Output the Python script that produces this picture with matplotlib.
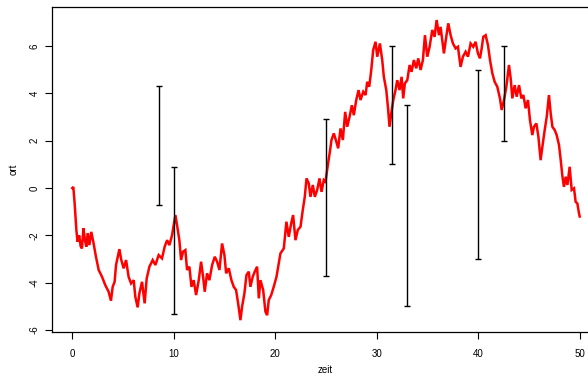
import matplotlib
matplotlib.use("Agg")
import matplotlib.pyplot as plt
import numpy as np

# Pfad (zeit, ort)
zeit = [
    0.0, 0.1, 0.23, 0.4, 0.52, 0.68, 0.82, 0.95, 1.1, 1.25, 1.38, 1.52, 1.68, 1.87,
    2.1, 2.33, 2.6, 2.93, 3.25, 3.58, 3.81, 3.98, 4.17, 4.31, 4.64, 4.83, 5.06,
    5.3, 5.55, 5.79, 6.05, 6.21, 6.44, 6.61, 6.87, 7.13, 7.33, 7.6, 7.92, 8.19,
    8.51, 8.84, 9.1, 9.34, 9.57, 9.83, 10.16, 10.32, 10.55, 10.72, 10.91, 11.14,
    11.31, 11.54, 11.74, 11.96, 12.2, 12.46, 12.69, 12.89, 13.05, 13.28, 13.51,
    13.78, 14.04, 14.27, 14.5, 14.76, 14.99, 15.16, 15.42, 15.68, 15.91, 16.14,
    16.34, 16.57, 16.73, 16.96, 17.16, 17.39, 17.55, 17.78, 17.98, 18.21, 18.38,
    18.54, 18.81, 19.03, 19.2, 19.36, 19.6, 19.85, 20.12, 20.35, 20.51, 20.84,
    21.1, 21.33, 21.57, 21.76, 21.99, 22.22, 22.49, 22.71, 22.91, 23.08, 23.3,
    23.47, 23.7, 23.9, 24.13, 24.36, 24.56, 24.78, 24.95, 25.18, 25.38, 25.54,
    25.77, 25.97, 26.2, 26.43, 26.66, 26.89, 27.09, 27.32, 27.55, 27.74, 27.98,
    28.21, 28.4, 28.67, 28.9, 29.06, 29.26, 29.46, 29.65, 29.88, 30.05, 30.31,
    30.54, 30.7, 30.94, 31.1, 31.26, 31.43, 31.63, 31.85, 32.02, 32.25, 32.45,
    32.61, 32.77, 33.01, 33.24, 33.43, 33.66, 33.89, 34.09, 34.32, 34.55, 34.75,
    34.98, 35.21, 35.47, 35.7, 35.9, 36.13, 36.29, 36.46, 36.62, 36.85, 37.05,
    37.28, 37.51, 37.77, 38.0, 38.26, 38.49, 38.76, 38.99, 39.25, 39.51, 39.74,
    39.97, 40.17, 40.34, 40.5, 40.73, 40.96, 41.16, 41.39, 41.62, 41.88, 42.14,
    42.31, 42.54, 42.77, 43.03, 43.2, 43.36, 43.59, 43.79, 44.02, 44.25, 44.45,
    44.67, 44.9, 45.1, 45.33, 45.49, 45.73, 45.93, 46.15, 46.32, 46.55, 46.75,
    46.97, 47.14, 47.31, 47.54, 47.73, 47.96, 48.13, 48.3, 48.45, 48.62, 48.79,
    49.01, 49.21, 49.44, 49.6, 49.77, 49.93, 50.0,
]
ort = [
    0.0, 0.05, -0.64, -1.77, -2.27, -2.0, -2.45, -2.55, -1.7, -2.2, -2.48, -1.9,
    -2.41, -1.85, -2.34, -2.9, -3.46, -3.75, -4.1, -4.38, -4.76, -4.17, -3.96,
    -3.25, -2.58, -3.04, -3.39, -3.04, -3.75, -4.03, -3.89, -4.59, -5.04, -4.45,
    -3.96, -4.87, -3.82, -3.32, -3.04, -3.25, -2.83, -2.97, -2.48, -2.2, -2.41,
    -1.99, -1.14, -1.56, -2.2, -3.04, -2.69, -2.62, -3.46, -3.32, -4.17, -3.89,
    -4.52, -3.89, -3.11, -3.75, -4.38, -3.6, -3.89, -3.25, -2.9, -3.11, -3.46,
    -2.34, -2.83, -3.6, -3.39, -3.89, -4.17, -4.31, -4.87, -5.58, -5.01, -4.45,
    -3.68, -3.53, -4.17, -3.75, -3.53, -3.32, -4.66, -3.89, -4.31, -5.22, -5.37,
    -4.73, -4.52, -4.17, -3.75, -3.18, -2.76, -2.55, -1.42, -2.06, -1.49, -1.14,
    -2.2, -1.77, -1.63, -0.93, -0.37, 0.41, 0.2, -0.37, 0.13, -0.37, -0.08, 0.41,
    -0.16, 0.34, 0.27, 0.97, 1.53, 2.03, 2.31, 2.03, 1.68, 2.52, 2.03, 3.22, 2.59,
    3.01, 3.5, 3.08, 3.72, 4.14, 3.72, 4.07, 3.93, 4.49, 4.28, 4.99, 5.83, 6.18,
    5.55, 6.11, 5.41, 4.7, 4.14, 3.43, 2.59, 3.16, 3.72, 4.14, 4.56, 4.14, 4.7,
    3.79, 4.42, 4.56, 5.2, 4.91, 5.41, 5.06, 5.48, 4.99, 5.41, 6.46, 5.55, 5.97,
    6.68, 6.39, 7.1, 6.46, 6.81, 6.25, 5.69, 6.39, 6.96, 6.46, 6.11, 5.9, 5.97,
    5.12, 5.55, 5.76, 5.55, 6.11, 5.97, 6.18, 5.69, 5.48, 5.9, 6.39, 6.46, 6.04,
    5.41, 4.85, 4.49, 4.28, 3.79, 3.3, 3.72, 4.28, 5.2, 4.63, 3.79, 4.35, 3.86,
    4.35, 3.79, 3.93, 3.37, 3.72, 2.87, 2.24, 2.59, 2.73, 2.17, 1.18, 1.74, 2.45,
    3.01, 3.93, 3.16, 2.59, 2.45, 2.24, 1.82, 1.18, 0.48, 0.05, 0.48, 0.13, 0.9,
    -0.08, -0.01, -0.58, -0.65, -1.07, -1.2,
]

# Intervalle
bar_zeit = [8.5, 10, 25, 31.5, 33, 40, 42.5]
bar_unten = [-0.7, -5.3, -3.7, 1.0, -5.0, -3.0, 2.0]
bar_oben = [4.3, 0.9, 2.9, 6.0, 3.5, 5.0, 6.0]

plt.rcParams["font.family"] = ["Liberation Sans", "DejaVu Sans"]

fig = plt.figure(figsize=(5.88, 3.75), dpi=100)
ax = fig.add_axes([52 / 588, 43 / 375, 548 / 588, 325 / 375])

ax.plot(zeit, ort, color="red", lw=1.8, solid_joinstyle="miter")

mitte = (np.array(bar_unten) + np.array(bar_oben)) / 2
ax.errorbar(bar_zeit, mitte,
            yerr=[mitte - np.array(bar_unten), np.array(bar_oben) - mitte],
            fmt="none", ecolor="black", elinewidth=1, capsize=2.5, capthick=1)

ax.set_xlim(-2, 52)
ax.set_ylim(-6.08, 7.65)
ax.set_xticks([0, 10, 20, 30, 40, 50])
ax.set_yticks([-6, -4, -2, 0, 2, 4, 6])
ax.set_yticklabels(["-6", "-4", "-2", "0", "2", "4", "6"], rotation=90, va="center")
ax.tick_params(direction="out", length=5, width=0.8, labelsize=7)
ax.tick_params(axis="x", pad=7)
ax.tick_params(axis="y", pad=4)
for s in ax.spines.values():
    s.set_linewidth(0.9)

ax.set_xlabel("zeit", fontsize=7)
ax.set_ylabel("ort", fontsize=7)
ax.xaxis.set_label_coords((325 - 52) / 548, (10 - 43) / 325)
ax.yaxis.set_label_coords((19 - 52) / 548, 0.5)

fig.savefig("out.png", dpi=100)
